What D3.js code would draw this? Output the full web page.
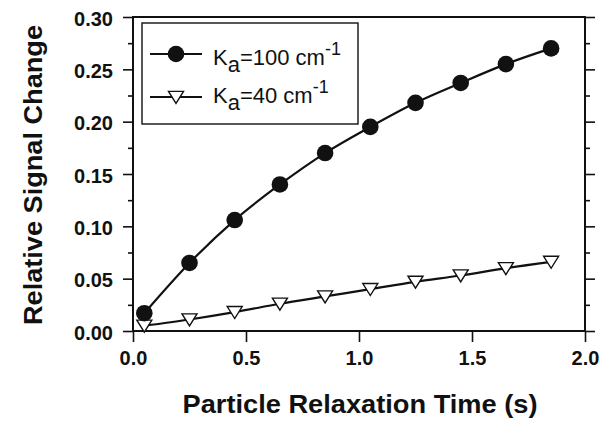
<!DOCTYPE html>
<html><head><meta charset="utf-8">
<script src="https://cdn.jsdelivr.net/npm/d3@7"></script>
<style>body{margin:0;background:#fff}svg{display:block}</style>
</head><body><svg id="c" width="610" height="423"></svg>
<script>
const times = [0.05,0.25,0.45,0.65,0.85,1.05,1.25,1.45,1.65,1.85];
const ka100 = [0.017,0.065,0.106,0.140,0.170,0.195,0.218,0.237,0.255,0.270];
const ka40  = [0.005,0.011,0.018,0.026,0.033,0.040,0.047,0.053,0.060,0.066];
const xTicks = [0,0.5,1.0,1.5,2.0];
const yTicks = [0,0.05,0.10,0.15,0.20,0.25,0.30];
const seriesNames = ["100","40"];

const svg = d3.select("#c");
const L=133,R=585,T=17,B=331;
const x = d3.scaleLinear().domain([0,2]).range([L,R]);
const y = d3.scaleLinear().domain([0,0.3]).range([B,T]);
const font = "'Liberation Sans', Arial, sans-serif";

const fmt2 = d3.format(".2f"), fmt1 = d3.format(".1f");
const yAx = svg.append("g").attr("transform",`translate(${L},0)`)
  .call(d3.axisLeft(y).tickValues(yTicks).tickFormat(fmt2).tickSize(10).tickPadding(10));
svg.append("g").attr("transform",`translate(${L},0)`)
  .call(d3.axisLeft(y).tickValues(d3.range(0.025,0.3,0.05)).tickFormat("").tickSize(5));
svg.append("g").attr("transform",`translate(${R},0)`)
  .call(d3.axisRight(y).tickValues(yTicks).tickFormat("").tickSize(10));
svg.append("g").attr("transform",`translate(${R},0)`)
  .call(d3.axisRight(y).tickValues(d3.range(0.025,0.3,0.05)).tickFormat("").tickSize(5));
const xAx = svg.append("g").attr("transform",`translate(0,${B})`)
  .call(d3.axisBottom(x).tickValues(xTicks).tickFormat(fmt1).tickSize(11).tickPadding(9));
svg.selectAll(".domain").remove();
svg.selectAll(".tick line").attr("stroke","#111").attr("stroke-width",1.6);
svg.selectAll(".tick text").attr("font-family",font).attr("font-weight","bold")
  .attr("font-size",20).attr("fill","#111");
yAx.selectAll(".tick text").attr("dy","0.4em");

svg.append("rect").attr("x",L).attr("y",T).attr("width",R-L).attr("height",B-T)
  .attr("fill","none").attr("stroke","#111").attr("stroke-width",2);

const line = d3.line().x((d,i)=>x(times[i])).y(d=>y(d)).curve(d3.curveMonotoneX);
svg.append("path").attr("d",line(ka100)).attr("fill","none").attr("stroke","#111").attr("stroke-width",2.2);
svg.append("path").attr("d",line(ka40)).attr("fill","none").attr("stroke","#111").attr("stroke-width",2.2);

const tri = (cx,cy,s)=>`M${cx-s},${cy-s*0.75}L${cx+s},${cy-s*0.75}L${cx},${cy+s*0.85}Z`;
svg.append("g").selectAll("path").data(ka40).join("path")
  .attr("d",(d,i)=>tri(x(times[i]),y(d),7.5))
  .attr("fill","#fff").attr("stroke","#111").attr("stroke-width",1.4);
svg.append("g").selectAll("circle").data(ka100).join("circle")
  .attr("cx",(d,i)=>x(times[i])).attr("cy",d=>y(d)).attr("r",8.3).attr("fill","#111");

svg.append("rect").attr("x",142).attr("y",23).attr("width",216).attr("height",101)
  .attr("fill","#fff").attr("stroke","#111").attr("stroke-width",1.4);
const rows=[54,97], bases=[65,103];
rows.forEach((ry,k)=>{
  svg.append("line").attr("x1",150).attr("x2",202).attr("y1",ry).attr("y2",ry)
    .attr("stroke","#111").attr("stroke-width",2.2);
  if(k===0) svg.append("circle").attr("cx",176).attr("cy",ry).attr("r",8.3).attr("fill","#111");
  else svg.append("path").attr("d",tri(176,ry,7.5)).attr("fill","#fff").attr("stroke","#111").attr("stroke-width",1.4);
  const t = svg.append("text").attr("x",213).attr("y",bases[k]).attr("font-family",font)
    .attr("font-size",22).attr("fill","#111");
  t.append("tspan").text("K");
  t.append("tspan").attr("dy",7).text("a");
  t.append("tspan").attr("dy",-7).text(`=${seriesNames[k]} cm`);
  t.append("tspan").attr("dy",-10).attr("font-size",18).text("-1");
});

svg.append("text").attr("x",360).attr("y",413).attr("text-anchor","middle")
  .attr("font-family",font).attr("font-weight","bold").attr("font-size",26)
  .attr("fill","#111").attr("textLength",355).attr("lengthAdjust","spacingAndGlyphs").text("Particle Relaxation Time (s)");
svg.append("text").attr("transform","translate(42,175) rotate(-90)").attr("text-anchor","middle")
  .attr("font-family",font).attr("font-weight","bold").attr("font-size",26)
  .attr("fill","#111").attr("textLength",300).attr("lengthAdjust","spacingAndGlyphs").text("Relative Signal Change");
</script></body></html>
